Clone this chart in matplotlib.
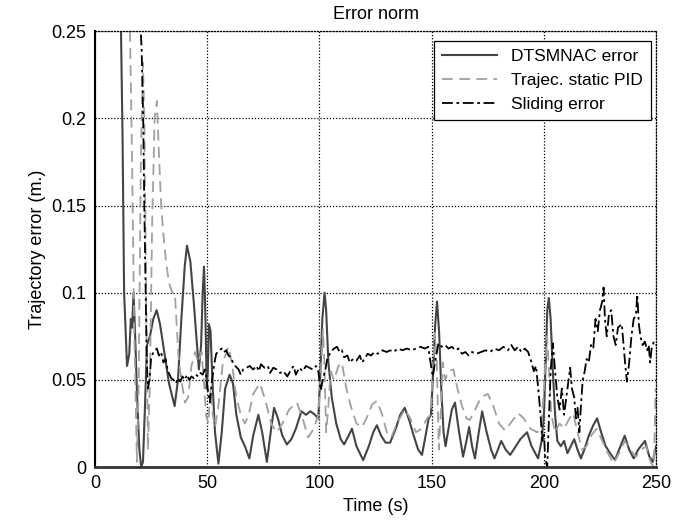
import matplotlib
matplotlib.use("Agg")
import matplotlib.pyplot as plt

plt.rcParams["font.family"] = ["Liberation Sans", "DejaVu Sans"]

# DTSMNAC error (solid)
dtsm_t = [11.5, 12.3, 13.0, 14.3, 15.3, 16.0, 16.6, 17.2, 17.8, 18.8, 19.8, 20.6, 21.4, 22.3, 23.2,
          24.5, 26.0, 27.5, 29.0, 31.0, 33.0, 35.5, 37.0, 38.5, 40.0, 41.0, 42.5, 44.0, 45.5, 46.3,
          47.3, 48.0, 48.6, 49.0, 49.4, 49.8, 50.3, 50.8, 51.5, 52.5, 53.5, 55.0, 56.5, 58.0, 60.0,
          61.5, 63.0, 65.0, 66.8, 68.8, 70.5, 72.8, 74.5, 76.6, 78.5, 79.8, 81.5, 83.5, 85.5, 87.5,
          89.5, 92.0, 94.0, 96.0, 98.0, 99.5, 100.3, 101.3, 102.3, 103.0, 104.0, 105.5, 107.5, 109.5,
          111.0, 113.0, 114.5, 116.5, 119.5, 122.0, 124.0, 125.6, 127.5, 129.5, 131.5, 134.0, 136.0,
          138.0, 140.0, 142.0, 144.0, 145.7, 147.3, 148.7, 149.7, 150.5, 151.5, 152.4, 153.3, 154.3,
          155.3, 156.2, 157.5, 159.0, 160.4, 162.0, 164.0, 165.5, 166.7, 168.0, 169.3, 171.0, 172.5,
          174.5, 176.5, 178.0, 179.5, 181.0, 183.0, 185.0, 187.0, 189.5, 192.5, 194.5, 197.4, 199.0,
          200.0, 200.8, 201.5, 202.2, 203.0, 204.0, 205.0, 206.0, 207.5, 209.0, 210.5, 212.0, 213.5,
          215.0, 216.5, 218.0, 220.0, 222.0, 223.7, 225.5, 227.5, 229.5, 231.7, 233.5, 236.0, 238.0,
          240.0, 242.0, 245.0, 247.0, 248.5, 250.0]
dtsm_v = [0.26, 0.19, 0.10, 0.058, 0.065, 0.085, 0.080, 0.100, 0.080, 0.040, 0.010, 0.000, 0.003, 0.035, 0.070,
          0.075, 0.085, 0.090, 0.082, 0.065, 0.048, 0.035, 0.050, 0.085, 0.115, 0.127, 0.118, 0.095, 0.070, 0.056,
          0.070, 0.100, 0.115, 0.098, 0.075, 0.045, 0.055, 0.082, 0.078, 0.045, 0.020, 0.002, 0.020, 0.045, 0.053,
          0.048, 0.030, 0.017, 0.012, 0.005, 0.018, 0.030, 0.020, 0.003, 0.022, 0.034, 0.028, 0.018, 0.013, 0.016,
          0.022, 0.032, 0.030, 0.032, 0.030, 0.028, 0.050, 0.085, 0.100, 0.090, 0.060, 0.040, 0.025, 0.016,
          0.013, 0.018, 0.022, 0.012, 0.004, 0.012, 0.020, 0.024, 0.018, 0.014, 0.014, 0.022, 0.030,
          0.034, 0.027, 0.018, 0.010, 0.007, 0.018, 0.028, 0.030, 0.050, 0.080, 0.095, 0.078, 0.045,
          0.020, 0.012, 0.022, 0.033, 0.037, 0.022, 0.006, 0.015, 0.023, 0.012, 0.005, 0.020, 0.032,
          0.020, 0.010, 0.005, 0.010, 0.015, 0.010, 0.007, 0.011, 0.016, 0.020, 0.012, 0.005, 0.015,
          0.030, 0.060, 0.090, 0.097, 0.085, 0.055, 0.030, 0.015, 0.012, 0.015, 0.008, 0.012, 0.016,
          0.010, 0.005, 0.010, 0.018, 0.024, 0.028, 0.020, 0.012, 0.008, 0.004, 0.010, 0.018, 0.010,
          0.005, 0.010, 0.015, 0.006, 0.003, 0.012]

# Trajectory static PID (dashed)
pid_t = [15.5, 16.5, 17.5, 18.7, 19.5, 20.5, 21.4, 22.0, 22.8, 23.6, 24.5, 25.5, 26.6, 27.6, 28.5,
         29.5, 30.4, 31.5, 32.5, 33.4, 34.5, 35.6, 36.5, 37.3, 38.5, 40.1, 41.5, 43.0, 44.6, 46.0,
         47.5, 48.5, 49.5, 50.5, 51.5, 52.5, 53.5, 55.0, 57.0, 59.4, 61.0, 63.0, 65.0, 66.8, 68.5,
         70.5, 73.5, 76.0, 78.5, 81.0, 83.5, 86.5, 90.0, 92.5, 95.0, 97.5, 99.5, 100.5, 101.6, 102.2,
         103.0, 104.0, 105.0, 106.5, 108.5, 110.0, 112.0, 114.0, 116.5, 119.0, 121.0, 123.5, 125.6,
         128.0, 130.0, 132.0, 134.5, 138.0, 140.5, 143.0, 145.5, 148.0, 149.5, 150.5, 151.5, 152.3,
         153.2, 154.0, 155.0, 156.0, 157.5, 159.7, 161.5, 163.5, 165.5, 167.0, 169.0, 172.0, 175.0,
         177.5, 180.0, 182.7, 185.0, 188.5, 191.0, 194.0, 197.0, 199.0, 200.0, 201.4, 202.3, 203.3,
         205.0, 207.0, 209.0, 211.0, 213.0, 215.0, 217.0, 219.0, 221.0, 223.5, 226.0, 228.5, 231.0,
         233.5, 236.0, 238.5, 241.0, 243.5, 245.5, 247.5, 249.0, 249.8]
pid_v = [0.26, 0.18, 0.08, 0.003, 0.05, 0.18, 0.232, 0.20, 0.10, 0.01, 0.05, 0.14, 0.20, 0.21, 0.18,
         0.15, 0.135, 0.12, 0.11, 0.104, 0.10, 0.10, 0.08, 0.062, 0.05, 0.037, 0.04, 0.058, 0.066, 0.06,
         0.066, 0.05, 0.03, 0.025, 0.045, 0.03, 0.023, 0.035, 0.06, 0.069, 0.06, 0.04, 0.03, 0.025, 0.03,
         0.042, 0.048, 0.038, 0.025, 0.02, 0.025, 0.033, 0.037, 0.028, 0.017, 0.022, 0.03, 0.05, 0.079, 0.06,
         0.02, 0.035, 0.055, 0.05, 0.058, 0.06, 0.045, 0.035, 0.025, 0.023, 0.028, 0.036, 0.038,
         0.03, 0.02, 0.017, 0.025, 0.033, 0.028, 0.02, 0.022, 0.028, 0.03, 0.055, 0.077, 0.06,
         0.01, 0.03, 0.06, 0.05, 0.055, 0.056, 0.045, 0.035, 0.028, 0.027, 0.032, 0.04, 0.042,
         0.035, 0.025, 0.021, 0.025, 0.031, 0.028, 0.022, 0.02, 0.025, 0.045, 0.075, 0.055, 0.03,
         0.02, 0.025, 0.022, 0.027, 0.031, 0.02, 0.01, 0.012, 0.018, 0.022, 0.015, 0.008, 0.002,
         0.008, 0.015, 0.01, 0.006, 0.01, 0.012, 0.003, 0.0, 0.045]

# Sliding error (dash-dot)
sl_t = [20.0, 20.8, 21.5, 22.0, 22.6, 23.1, 23.6, 24.3, 25.0, 26.0, 27.6, 28.5, 29.5, 30.5, 31.5,
        32.5, 34.0, 35.0, 36.0, 37.0, 38.0, 39.0, 40.0, 41.0, 42.0, 43.0, 44.0, 45.0, 46.0, 47.0,
        48.0, 49.0, 49.8, 50.5, 51.2, 52.0, 53.0, 54.0, 55.5, 56.5, 57.5, 58.5, 59.5, 60.5, 61.5,
        62.5, 64.0, 65.0, 66.0, 67.5, 69.0, 70.5, 72.0, 73.0, 74.0, 75.5, 77.0, 78.0, 79.5, 81.0,
        82.5, 84.0, 85.7, 87.0, 88.5, 89.5, 91.0, 92.5, 94.0, 95.5, 97.0, 98.5, 99.5, 100.6, 101.5,
        102.5, 103.5, 105.0, 106.5, 107.8, 109.0, 110.0, 111.0, 112.5, 113.5, 115.0, 116.5, 118.0,
        119.0, 120.0, 121.5, 123.0, 124.5, 126.0, 128.0, 130.0, 131.5, 133.0, 135.0, 137.0, 139.0,
        141.0, 143.0, 145.0, 147.0, 148.5, 149.5, 150.5, 151.5, 153.0, 154.5, 156.0, 157.5, 159.0,
        160.5, 162.0, 163.5, 165.0, 166.5, 168.0, 170.0, 172.0, 174.0, 176.0, 178.0, 180.0, 182.0,
        184.0, 185.5, 187.0, 188.5, 190.0, 191.5, 193.0, 194.5, 195.5, 196.5, 197.5, 198.5, 199.3,
        200.0, 200.6, 201.5, 202.3, 203.0, 204.0, 205.0, 206.0, 207.0, 208.0, 209.0, 210.0, 211.7,
        212.5, 213.5, 214.3, 215.0, 215.8, 216.5, 217.3, 218.2, 219.0, 220.0, 221.0, 222.0, 223.0,
        224.0, 225.0, 226.0, 226.6, 227.2, 228.0, 229.0, 230.0, 231.0, 232.0, 233.0, 234.7, 235.5,
        236.3, 237.0, 238.0, 239.0, 240.0, 241.0, 241.6, 242.3, 243.0, 244.0, 245.0, 246.0, 246.7,
        247.3, 248.0, 249.0, 250.0]
sl_v = [0.26, 0.24, 0.20, 0.15, 0.10, 0.06, 0.045, 0.05, 0.062, 0.066, 0.068, 0.064, 0.066, 0.06, 0.062,
        0.055, 0.051, 0.05, 0.048, 0.051, 0.049, 0.052, 0.05, 0.053, 0.05, 0.052, 0.051, 0.053, 0.052, 0.054,
        0.053, 0.056, 0.05, 0.042, 0.037, 0.048, 0.058, 0.065, 0.067, 0.068, 0.066, 0.067, 0.064, 0.063, 0.06,
        0.058, 0.056, 0.053, 0.056, 0.057, 0.058, 0.056, 0.058, 0.055, 0.059, 0.057, 0.058, 0.054, 0.057, 0.056,
        0.054, 0.055, 0.052, 0.055, 0.058, 0.053, 0.057, 0.055, 0.058, 0.057, 0.056, 0.058, 0.055, 0.044, 0.05,
        0.055, 0.062, 0.066, 0.068, 0.069, 0.066, 0.067, 0.063, 0.064, 0.06, 0.062, 0.061, 0.064,
        0.06, 0.062, 0.065, 0.064, 0.066, 0.065, 0.067, 0.066, 0.067, 0.066, 0.068, 0.067, 0.068,
        0.067, 0.068, 0.069, 0.068, 0.069, 0.06, 0.052, 0.06, 0.071, 0.069, 0.07, 0.068, 0.069,
        0.067, 0.068, 0.065, 0.066, 0.064, 0.066, 0.065, 0.066, 0.067, 0.066, 0.068, 0.067, 0.069,
        0.067, 0.07, 0.067, 0.069, 0.066, 0.068, 0.066, 0.06, 0.055, 0.058, 0.045, 0.03, 0.015,
        0.02, 0.005, 0.0, 0.03, 0.055, 0.071, 0.055, 0.04, 0.033, 0.045, 0.03, 0.04, 0.057,
        0.045, 0.04, 0.028, 0.034, 0.02, 0.035, 0.05, 0.055, 0.062, 0.06, 0.07, 0.068, 0.085,
        0.078, 0.09, 0.095, 0.103, 0.085, 0.075, 0.088, 0.09, 0.075, 0.07, 0.08, 0.082, 0.07,
        0.058, 0.049, 0.06, 0.075, 0.085, 0.087, 0.099, 0.082, 0.075, 0.07, 0.072, 0.067, 0.07,
        0.06, 0.068, 0.072, 0.07]

fig = plt.figure(figsize=(6.98, 5.29), dpi=100)
ax = fig.add_axes([0.136, 0.117, 0.804, 0.824])

ax.plot(dtsm_t, dtsm_v, color="#444444", lw=1.5, ls="-", label="DTSMNAC error")
ax.plot(pid_t, pid_v, color="#a0a0a0", lw=1.3, ls=(0, (6, 3.5)), label="Trajec. static PID")
ax.plot(sl_t, sl_v, color="black", lw=1.3, ls=(0, (6, 2, 1.5, 2)), label="Sliding error")

ax.set_xlim(0, 250)
ax.set_ylim(0, 0.25)
ax.set_xticks([0, 50, 100, 150, 200, 250])
ax.set_yticks([0, 0.05, 0.1, 0.15, 0.2, 0.25])
ax.set_yticklabels(["0", "0.05", "0.1", "0.15", "0.2", "0.25"])
ax.tick_params(labelsize=13, length=0, pad=6)
ax.grid(True, color="black", ls=(0, (1, 1.5)), lw=0.9)
for side in ["top", "right"]:
    ax.spines[side].set_linestyle((0, (1, 1.5)))
    ax.spines[side].set_linewidth(0.9)
ax.spines["left"].set_linewidth(1.5)
ax.spines["bottom"].set_linewidth(2.0)
ax.spines["bottom"].set_color("#333333")

ax.set_title("Error norm", fontsize=13, pad=9)
ax.set_xlabel("Time (s)", fontsize=13)
ax.set_ylabel("Trajectory error (m.)", fontsize=13)

leg = ax.legend(loc="upper right", fontsize=12.5, fancybox=False, framealpha=1,
                edgecolor="black", handlelength=3.2, borderpad=0.45, labelspacing=0.5,
                borderaxespad=0.2, bbox_to_anchor=(0.997, 0.985))
leg.get_frame().set_linewidth(0.9)

fig.savefig("out.png", dpi=100)
